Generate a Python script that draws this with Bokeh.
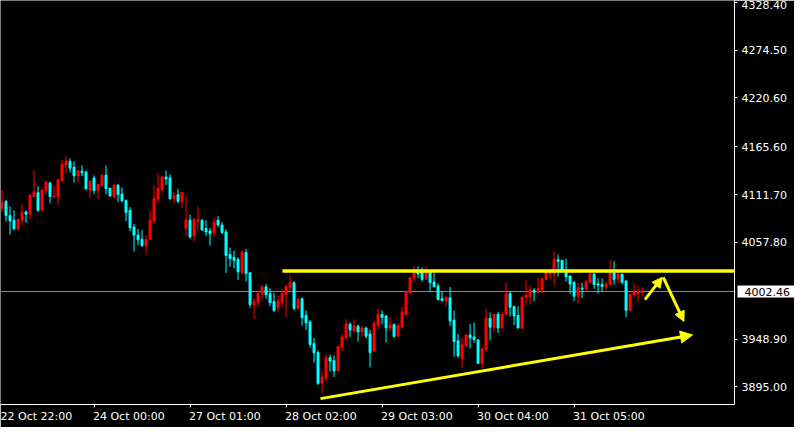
from bokeh.plotting import figure
from bokeh.models import (Range1d, FixedTicker, Span, Arrow, NormalHead,
                          ColumnDataSource, PrintfTickFormatter, LinearAxis)
from bokeh.embed import file_html
from bokeh.resources import INLINE

# ---------------- data (H1 candles) ----------------
opens = [
    4096.5, 4103.9, 4088.1, 4082.9, 4073.0, 4082.9, 4092.1, 4089.8, 4109.4, 4113.8,
    4094.0, 4116.4, 4124.9, 4109.4, 4109.4, 4127.4, 4145.1, 4149.2, 4142.6, 4133.0,
    4138.1, 4137.0, 4116.8, 4130.4, 4116.4, 4121.6, 4133.7, 4119.0, 4109.4, 4122.3,
    4112.4, 4105.0, 4094.0, 4075.2, 4066.0, 4061.5, 4054.1, 4061.5, 4081.8, 4106.4,
    4117.5, 4131.5, 4130.4, 4107.2, 4111.6, 4104.2, 4073.3, 4082.9, 4065.1, 4081.8,
    4082.9, 4073.3, 4070.8, 4068.6, 4082.9, 4077.4, 4069.6, 4044.2, 4040.9, 4038.7,
    4024.0, 4046.4, 4023.5, 3987.8, 3990.0, 4000.0, 4007.7, 4000.0, 3991.1, 3984.8,
    3990.0, 3998.9, 4006.3, 4012.2, 3983.4, 3994.4, 3975.6, 3968.2, 3943.6, 3933.6,
    3898.6, 3904.9, 3928.1, 3924.8, 3913.0, 3939.5, 3950.5, 3965.7, 3958.0, 3963.5,
    3956.9, 3961.3, 3954.6, 3935.1, 3964.6, 3976.8, 3974.9, 3961.3, 3965.0, 3952.5,
    3962.4, 3976.8, 4000.7, 4017.3, 4024.6, 4024.6, 4016.2, 4024.6, 4013.2, 4008.8,
    3994.4, 3992.2, 3995.2, 3970.1, 3946.9, 3927.0, 3941.0, 3953.5, 3951.3, 3947.9,
    3921.4, 3937.1, 3972.4, 3962.1, 3976.8, 3961.3, 3976.8, 4000.0, 3985.6, 3975.6,
    3961.0, 3995.9, 3996.3, 4003.6, 4001.4, 4004.4, 4016.2, 4022.1, 4022.1, 4038.3,
    4037.6, 4024.3, 4019.9, 4012.5, 3997.0, 4006.3, 4005.5, 4012.9, 4022.1, 4011.0,
    4010.3, 4007.4, 4010.3, 4023.5, 4016.2, 4022.1, 4014.3, 3981.2, 3998.9, 3999.6,
    4001.4,
]
highs = [
    4116.8, 4105.8, 4098.4, 4094.0, 4084.0, 4101.3, 4094.0, 4111.3, 4139.2, 4121.2,
    4118.6, 4126.0, 4126.0, 4121.2, 4129.6, 4151.1, 4155.8, 4152.5, 4148.9, 4139.6,
    4144.5, 4138.9, 4127.1, 4133.4, 4124.1, 4134.5, 4144.5, 4119.0, 4123.4, 4123.4,
    4119.7, 4106.4, 4097.6, 4078.8, 4073.0, 4071.9, 4066.0, 4094.0, 4122.7, 4136.0,
    4132.3, 4138.9, 4134.5, 4114.9, 4118.3, 4114.9, 4110.5, 4089.2, 4085.4, 4098.4,
    4083.7, 4082.9, 4074.1, 4085.4, 4087.3, 4080.7, 4072.6, 4051.9, 4048.6, 4041.2,
    4048.6, 4050.5, 4024.7, 3994.4, 4002.5, 4009.9, 4010.7, 4006.3, 4000.7, 3998.1,
    4005.5, 4010.7, 4021.0, 4014.4, 3995.2, 3995.9, 3981.2, 3970.1, 3950.2, 3936.2,
    3912.3, 3932.5, 3931.4, 3930.6, 3941.4, 3954.6, 3971.2, 3967.6, 3970.9, 3965.0,
    3963.9, 3962.8, 3959.8, 3969.3, 3983.4, 3981.2, 3976.0, 3973.1, 3966.5, 3966.5,
    3985.6, 4002.5, 4018.8, 4031.3, 4030.9, 4029.5, 4030.9, 4024.6, 4023.5, 4011.5,
    4002.5, 3997.8, 4007.4, 3981.2, 3954.6, 3950.2, 3954.6, 3965.7, 3967.6, 3948.5,
    3938.0, 3983.1, 3978.7, 3976.8, 3979.4, 3978.7, 4012.9, 4002.5, 3986.7, 3985.9,
    3996.3, 4015.1, 4009.9, 4006.3, 4018.4, 4018.4, 4024.3, 4026.5, 4047.5, 4044.2,
    4037.6, 4039.4, 4020.6, 4014.7, 4012.5, 4012.5, 4015.4, 4022.9, 4023.5, 4017.3,
    4017.3, 4012.5, 4037.6, 4036.5, 4023.5, 4022.1, 4015.4, 4001.4, 4011.0, 4008.8,
    4007.4,
]
lows = [
    4092.8, 4081.4, 4066.6, 4071.9, 4071.9, 4077.7, 4079.9, 4084.3, 4109.4, 4092.1,
    4094.0, 4111.3, 4102.0, 4107.5, 4099.4, 4126.3, 4136.0, 4137.0, 4125.2, 4125.2,
    4132.3, 4116.8, 4107.5, 4112.0, 4106.4, 4120.5, 4112.0, 4109.4, 4107.5, 4103.1,
    4102.8, 4081.8, 4070.4, 4047.5, 4054.9, 4053.0, 4044.5, 4061.5, 4079.2, 4102.0,
    4113.1, 4122.3, 4105.8, 4102.0, 4102.0, 4096.5, 4064.4, 4062.2, 4058.6, 4070.8,
    4070.8, 4065.1, 4054.1, 4064.4, 4075.2, 4067.5, 4023.5, 4030.1, 4028.4, 4015.4,
    4021.8, 4013.6, 3984.2, 3971.2, 3984.8, 3991.5, 3994.4, 3985.9, 3979.3, 3979.8,
    3983.4, 3973.7, 4002.5, 3981.2, 3982.3, 3963.8, 3959.1, 3939.2, 3922.3, 3897.2,
    3887.7, 3901.3, 3912.3, 3906.0, 3913.0, 3935.1, 3948.8, 3951.0, 3955.4, 3945.8,
    3951.7, 3949.6, 3917.1, 3934.4, 3959.1, 3965.7, 3945.0, 3957.6, 3951.0, 3951.0,
    3960.5, 3974.6, 3999.6, 4013.6, 4017.3, 4013.6, 4016.2, 4002.5, 4006.9, 3992.6,
    3991.1, 3985.9, 3963.8, 3928.9, 3927.8, 3915.9, 3939.2, 3938.1, 3944.7, 3920.8,
    3915.9, 3934.4, 3947.2, 3957.2, 3955.7, 3961.0, 3975.7, 3974.3, 3964.6, 3961.0,
    3960.2, 3987.1, 3987.8, 3991.5, 4000.7, 4000.7, 4015.4, 4016.2, 4009.9, 4019.1,
    4025.8, 4013.6, 3999.8, 3991.5, 3988.9, 3995.2, 4002.5, 4011.8, 4005.5, 4000.0,
    4002.5, 4003.6, 4009.6, 4010.3, 4011.8, 4011.0, 3973.1, 3980.4, 3996.3, 3991.5,
    3997.0,
]
closes = [
    4102.8, 4088.1, 4081.8, 4073.0, 4084.0, 4091.7, 4089.5, 4111.3, 4114.9, 4094.0,
    4116.8, 4126.0, 4109.4, 4110.2, 4128.2, 4145.9, 4149.2, 4141.5, 4133.0, 4138.1,
    4136.3, 4118.3, 4127.1, 4116.4, 4123.0, 4133.7, 4118.3, 4110.2, 4122.3, 4112.0,
    4104.7, 4091.7, 4074.4, 4066.0, 4060.8, 4054.1, 4061.5, 4082.9, 4107.2, 4118.3,
    4131.5, 4129.3, 4107.2, 4110.5, 4104.2, 4114.2, 4082.9, 4064.0, 4083.7, 4083.7,
    4071.9, 4069.6, 4067.5, 4080.7, 4077.4, 4068.9, 4043.1, 4039.4, 4037.6, 4024.7,
    4046.7, 4022.5, 3987.8, 3991.1, 4000.0, 4007.7, 3998.9, 3990.0, 3981.2, 3991.1,
    4000.0, 4007.7, 4012.2, 3983.4, 3993.3, 3973.0, 3967.1, 3942.8, 3933.3, 3898.6,
    3906.0, 3928.1, 3924.0, 3913.0, 3940.3, 3951.3, 3966.0, 3959.1, 3963.5, 3956.9,
    3961.3, 3952.1, 3933.6, 3966.8, 3976.8, 3973.1, 3961.3, 3965.0, 3951.7, 3963.5,
    3979.3, 4002.5, 4018.0, 4024.6, 4022.1, 4016.2, 4024.6, 4012.5, 4008.0, 3993.3,
    3992.2, 3995.9, 3969.3, 3946.1, 3929.9, 3942.5, 3953.5, 3950.2, 3948.3, 3921.4,
    3938.0, 3972.4, 3962.1, 3976.8, 3961.3, 3976.8, 4000.0, 3984.8, 3974.9, 3961.3,
    3996.3, 3998.1, 4004.4, 4001.4, 4005.5, 4016.6, 4024.3, 4024.3, 4038.3, 4036.5,
    4026.5, 4019.1, 4011.0, 3997.0, 4006.9, 4005.2, 4013.6, 4022.1, 4010.3, 4009.6,
    4008.0, 4011.0, 4023.5, 4016.2, 4022.1, 4012.9, 3981.2, 3998.9, 4001.4, 4002.5,
    4002.46,
]

time_ticks = [-1, 23, 47, 71, 95, 119, 143]
time_labels = ["22 Oct 22:00", "24 Oct 00:00", "27 Oct 01:00", "28 Oct 02:00",
               "29 Oct 03:00", "30 Oct 04:00", "31 Oct 05:00"]
price_ticks = [4328.40, 4274.50, 4220.60, 4165.60, 4111.70, 4057.80, 3948.90, 3895.00]
bid_price = 4002.46

# hand-drawn analysis objects (bar index, price)
resist_price = 4025.7
resist_x = [70.1, 183.1]
trend_x = [79.6, 172.6]
trend_y = [3881.7, 3953.5]
up_x = [160.7, 165.05]
up_y = [3993.3, 4018.4]
down_x = [165.3, 170.45]
down_y = [4018.4, 3968.7]

x_lo, x_hi = -0.375, 183.1
y_lo, y_hi = 3875.1, 4330.5

# ---------------- chart ----------------
BULL = "#ff0000"
BEAR = "#00ffff"
YEL = "#ffff00"
FONT = "DejaVu Sans"
LABEL_SHIFT = 8.7   # centre of a left-aligned time label, in bars right of its tick

idx = list(range(len(opens)))
colors = [BULL if c >= o else BEAR for o, c in zip(opens, closes)]
src = ColumnDataSource(dict(
    x=idx, o=opens, h=highs, l=lows, c=closes,
    top=[max(o, c) for o, c in zip(opens, closes)],
    bot=[min(o, c) for o, c in zip(opens, closes)],
    col=colors,
))

p = figure(frame_width=734, frame_height=404,
           x_range=Range1d(x_lo, x_hi), y_range=Range1d(y_lo, y_hi),
           y_axis_location="right", output_backend="svg", toolbar_location=None,
           background_fill_color="black", border_fill_color="black",
           min_border_left=0, min_border_top=0, min_border_bottom=23, min_border_right=0)
p.outline_line_color = None
p.xgrid.visible = False
p.ygrid.visible = False

# bid line beneath candles
p.add_layout(Span(location=bid_price, dimension="width", line_color="#7d8b99",
                  line_width=1, level="underlay"))

p.segment(x0="x", y0="h", x1="x", y1="l", source=src, line_color="col", line_width=1)
p.vbar(x="x", top="top", bottom="bot", width=0.5, source=src,
       fill_color="col", line_color="col", line_width=1)

# resistance line
p.segment(x0=[resist_x[0]], y0=[resist_price], x1=[resist_x[1]], y1=[resist_price],
          line_color=YEL, line_width=3.5)

# arrows
p.add_layout(Arrow(end=NormalHead(size=12, fill_color=YEL, line_color=YEL, line_width=1),
                   x_start=trend_x[0], y_start=trend_y[0], x_end=trend_x[1], y_end=trend_y[1],
                   line_color=YEL, line_width=3))
p.add_layout(Arrow(end=NormalHead(size=10, fill_color=YEL, line_color=YEL, line_width=1),
                   x_start=up_x[0], y_start=up_y[0], x_end=up_x[1], y_end=up_y[1],
                   line_color=YEL, line_width=3))
p.add_layout(Arrow(end=NormalHead(size=10, fill_color=YEL, line_color=YEL, line_width=1),
                   x_start=down_x[0], y_start=down_y[0], x_end=down_x[1], y_end=down_y[1],
                   line_color=YEL, line_width=3))

# bottom axis 1: line + tick marks
xa = p.xaxis[0]
xa.ticker = FixedTicker(ticks=time_ticks)
xa.major_label_overrides = {t: "" for t in time_ticks}
xa.major_label_standoff = 0
xa.axis_line_color = "white"
xa.major_tick_line_color = "white"
xa.major_tick_out = 3
xa.major_tick_in = 0
xa.minor_tick_line_color = None

# bottom axis 2: the time labels, left-aligned at their ticks
label_pos = [t + LABEL_SHIFT for t in time_ticks]
xa2 = LinearAxis(ticker=FixedTicker(ticks=label_pos),
                 major_label_overrides={lp: lab for lp, lab in zip(label_pos, time_labels)},
                 axis_line_color=None, major_tick_line_color=None, minor_tick_line_color=None,
                 major_tick_out=0, major_tick_in=0, major_label_standoff=2,
                 major_label_text_color="white", major_label_text_font=FONT,
                 major_label_text_font_size="11px")
p.add_layout(xa2, "below")

# right price scale
ya = p.yaxis[0]
ya.ticker = FixedTicker(ticks=price_ticks)
ya.formatter = PrintfTickFormatter(format="%.2f")
ya.axis_line_color = "white"
ya.major_tick_line_color = "white"
ya.major_tick_out = 3
ya.major_tick_in = 0
ya.minor_tick_line_color = None
ya.major_label_standoff = 4
ya.major_label_text_color = "white"
ya.major_label_text_font = FONT
ya.major_label_text_font_size = "11px"

# white marker box for the current bid (a wide inward tick of an extra scale)
box_axis = LinearAxis(ticker=FixedTicker(ticks=[bid_price]),
                      major_label_overrides={bid_price: ""},
                      axis_line_color=None, minor_tick_line_color=None,
                      major_tick_line_color="white", major_tick_line_width=12,
                      major_tick_line_cap="butt",
                      major_tick_in=52, major_tick_out=5, major_label_standoff=0,
                      major_label_text_font_size="11px")
p.add_layout(box_axis, "right")

# current bid price text, pulled back over the price scale
bid_axis = LinearAxis(ticker=FixedTicker(ticks=[bid_price]),
                      formatter=PrintfTickFormatter(format="%.2f"),
                      axis_line_color=None, major_tick_line_color=None,
                      minor_tick_line_color=None, major_tick_out=0, major_tick_in=0,
                      major_label_standoff=-50, major_label_text_color="black",
                      major_label_text_font=FONT, major_label_text_font_size="11px")
p.add_layout(bid_axis, "right")

open("out.html", "w").write(file_html(p, INLINE))
